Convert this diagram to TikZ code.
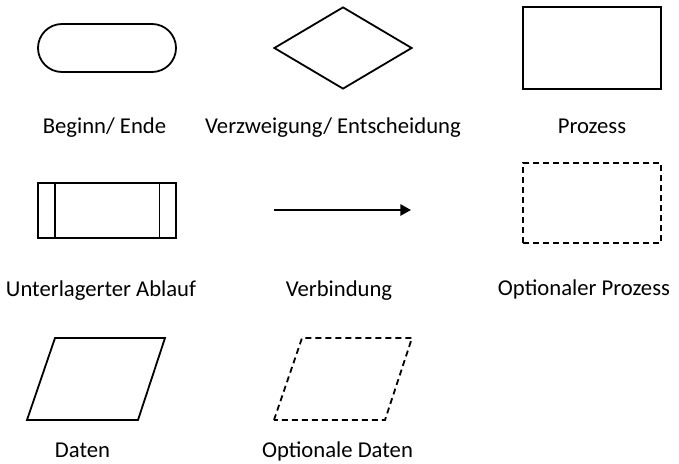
\documentclass[tikz,border=0pt]{standalone}
\usepackage{fontspec}
\setmainfont{Carlito}
\usetikzlibrary{shapes.geometric,shapes.misc,arrows.meta}

\begin{document}
\begin{tikzpicture}[x=0.75pt, y=-0.75pt,
  outline/.style={draw, line width=1.35pt, inner sep=0pt},
  optional/.style={outline, dash pattern=on 4.5pt off 3pt},
  caption/.style={font=\fontsize{17}{20}\selectfont, anchor=base, inner sep=0pt}]

% Frame
\useasboundingbox (0,0) rectangle (679,464);

% Row 1: start/end, branch, process
\node[outline, rounded rectangle, minimum width=103.5pt, minimum height=36pt] (start) at (107,48) {};
\node[outline, diamond, minimum width=103.5pt, minimum height=61.5pt] (branch) at (343,48) {};
\node[outline, minimum width=103.5pt, minimum height=61.5pt] (process) at (592,48) {};

\node[caption] (startlbl) at (104.5,133) {Beginn/ Ende};
\node[caption] (branchlbl) at (333,133) {Verzweigung/ Entscheidung};
\node[caption] (processlbl) at (592,133) {Prozess};

% Row 2: sub-process, connector, optional process
\node[outline, minimum width=103.5pt, minimum height=41.25pt] (subproc) at (107,210.5) {};
\draw[line width=1.35pt] ([xshift=13.5pt]subproc.north west) -- ([xshift=13.5pt]subproc.south west);
\draw[line width=1.35pt] ([xshift=-13pt]subproc.north east) -- ([xshift=-13pt]subproc.south east);

\coordinate (linkA) at (274,210);
\coordinate (linkB) at (411,210);
\draw[line width=1.35pt, -{Triangle[length=8pt,width=8.5pt]}] (linkA) -- (linkB);

\node[optional, minimum width=103.5pt, minimum height=60pt] (optproc) at (592,203) {};

\node[caption] (subproclbl) at (101,296) {Unterlagerter Ablauf};
\node[caption] (linklbl) at (339,296) {Verbindung};
\node[caption] (optproclbl) at (584,295) {Optionaler Prozess};

% Row 3: data, optional data
\draw[outline] (27,420) -- (55,338) -- (165,338) -- (138,420) -- cycle;
\draw[optional] (274,420) -- (302,338) -- (412,338) -- (385,420) -- cycle;

\node[caption] (datalbl) at (82.5,457) {Daten};
\node[caption] (optdatalbl) at (337.5,457) {Optionale Daten};

\end{tikzpicture}
\end{document}
